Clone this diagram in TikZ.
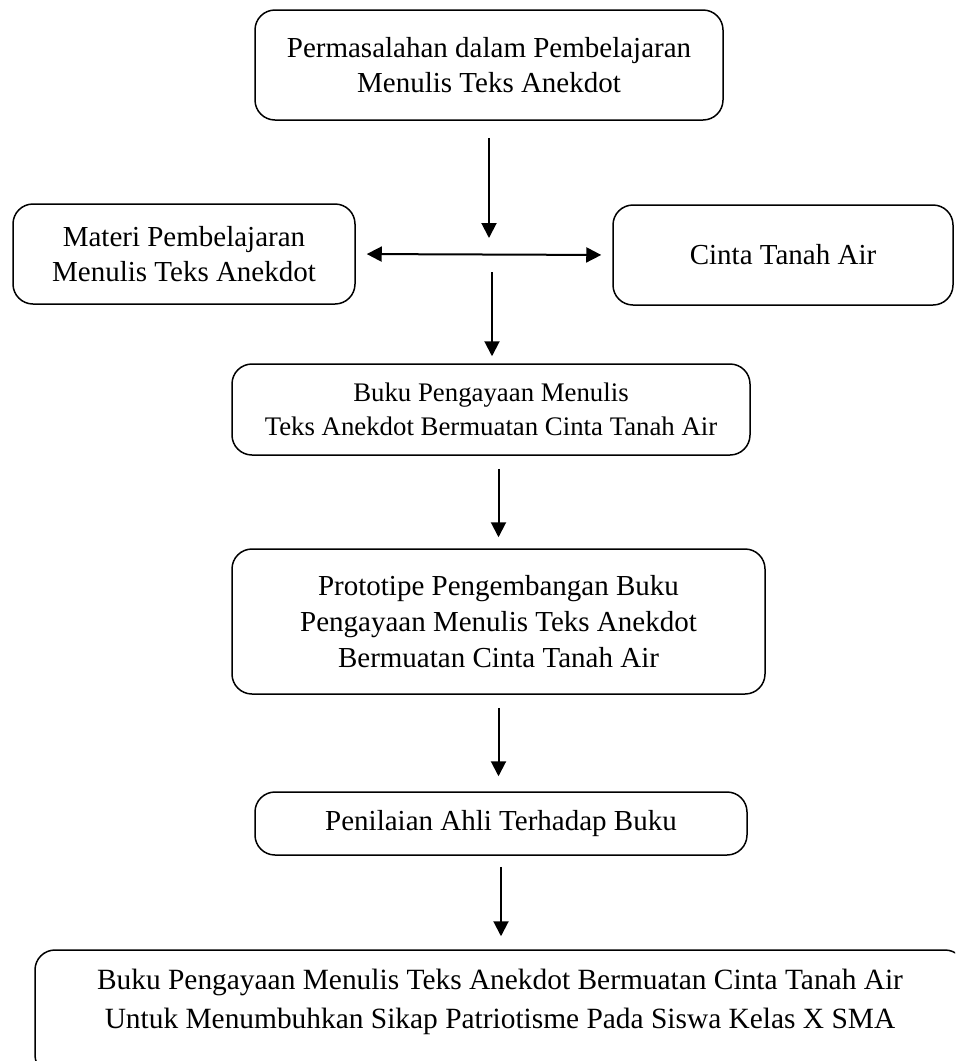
\documentclass[tikz,border=0pt]{standalone}
\usepackage{fontspec}
\setmainfont{Liberation Serif}
\usetikzlibrary{arrows.meta}

\tikzset{
  box/.style={draw, line width=0.75pt, rounded corners=10pt, align=center, inner sep=0pt},
  flow/.style={-{Triangle[length=7.5pt,width=7.5pt]}, line width=1pt},
  both/.style={{Triangle[length=7.5pt,width=7.5pt]}-{Triangle[length=7.5pt,width=7.5pt]}, line width=1pt}
}

\begin{document}
\begin{tikzpicture}[x=0.5pt, y=-0.5pt, font=\fontsize{14.5}{17.5}\selectfont]
  \useasboundingbox (0,0) rectangle (955,1061);
  \clip (0,0) rectangle (955,1061);
  \node[box, minimum width=234pt, minimum height=55pt] (masalah) at (489,65)
    {Permasalahan dalam Pembelajaran\\ Menulis Teks Anekdot};
  \node[box, minimum width=171pt, minimum height=50pt] (materi) at (184,254)
    {Materi Pembelajaran\\ Menulis Teks Anekdot};
  \node[box, minimum width=170pt, minimum height=50pt] (cinta) at (783,255)
    {Cinta Tanah Air};
  \node[box, minimum width=259pt, minimum height=45.5pt, font=\fontsize{13.4}{17}\selectfont] (pengayaan) at (491,409.5)
    {Buku Pengayaan Menulis\\ Teks Anekdot Bermuatan Cinta Tanah Air};
  \node[box, minimum width=266.5pt, minimum height=72.5pt, font=\fontsize{14.5}{18}\selectfont] (prototipe) at (498.5,621.5)
    {Prototipe Pengembangan Buku\\ Pengayaan Menulis Teks Anekdot\\ Bermuatan Cinta Tanah Air};
  \node[box, minimum width=246pt, minimum height=31.5pt] (penilaian) at (501,823.5)
    {Penilaian Ahli Terhadap Buku};
  \node[box, minimum width=465pt, minimum height=62.5pt] (buku) at (500,1012.5) {};
  \node[align=center, inner sep=0pt, font=\fontsize{14.7}{19.5}\selectfont] (bukuteks) at (500,1002)
    {Buku Pengayaan Menulis Teks Anekdot Bermuatan Cinta Tanah Air\\ Untuk Menumbuhkan Sikap Patriotisme Pada Siswa Kelas X SMA};

  \coordinate (temu) at (489,238);
  \coordinate (pisah) at (492,272);
  \draw[flow, shorten <=8.5pt] (masalah.south) -- (temu);
  \draw[both, shorten <=5.5pt, shorten >=5.5pt] (materi.east) -- (cinta.west);
  \draw[flow, shorten >=3.5pt] (pisah) -- (pisah |- pengayaan.north);
  \draw[flow, shorten <=6.5pt, shorten >=5.5pt] (prototipe.north |- pengayaan.south) -- (prototipe.north);
  \draw[flow, shorten <=6.5pt, shorten >=7.5pt] (prototipe.south) -- (prototipe.south |- penilaian.north);
  \draw[flow, shorten <=5.5pt, shorten >=6.5pt] (penilaian.south) -- (penilaian.south |- buku.north);
\end{tikzpicture}
\end{document}
